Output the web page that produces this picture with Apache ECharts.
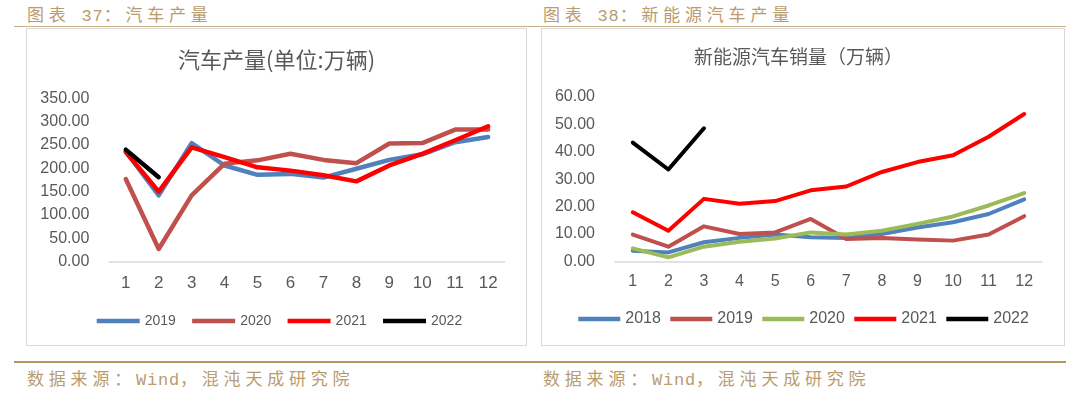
<!DOCTYPE html>
<html>
<head>
<meta charset="utf-8">
<script src="https://cdn.jsdelivr.net/npm/echarts@6/dist/echarts.min.js"></script>
<style>
  html, body { margin: 0; padding: 0; background: #ffffff; }
  #page { position: relative; width: 1080px; height: 397px; overflow: hidden; background: #fff; }
  .hdr { position: absolute; font-family: "Noto Sans CJK SC", sans-serif; font-size: 17px; line-height: 20px;
         color: #b99c6e; letter-spacing: 4.8px; white-space: nowrap; }
  .mono { font-family: "Liberation Mono", monospace; letter-spacing: 0.8px; }
  .rule { position: absolute; }
  .box { position: absolute; box-sizing: border-box; border: 1.5px solid #d9d9d9; }
  .chart { position: absolute; top: 0; width: 540px; height: 397px; }
</style>
</head>
<body>
<div id="page">
  <div class="hdr" style="left:27px; top:4px;">图表<span class="mono"> 37</span>：汽车产量</div>
  <div class="hdr" style="left:543px; top:4px;">图表<span class="mono"> 38</span>：新能源汽车产量</div>
  <div class="rule" style="left:14px; top:25.5px; width:1052px; height:1.5px; background:#c8b089;"></div>
  <div class="box" style="left:26px; top:28px; width:501px; height:318px;"></div>
  <div class="box" style="left:540.5px; top:28px; width:524px; height:318px;"></div>
  <div class="rule" style="left:14px; top:361.3px; width:1052px; height:2px; background:#b49660;"></div>
  <div class="hdr" style="left:27px; top:368px;">数据来源：<span class="mono">Wind</span>，混沌天成研究院</div>
  <div class="hdr" style="left:543px; top:368px;">数据来源：<span class="mono">Wind</span>，混沌天成研究院</div>
  <div id="c1" class="chart" style="left:0px;"></div>
  <div id="c2" class="chart" style="left:540px;"></div>
</div>
<script>
// ---- data: left chart (汽车产量, 万辆) ----
const months = ['1','2','3','4','5','6','7','8','9','10','11','12'];
const car2019 = [236, 142, 254, 206, 186, 188, 180, 199, 218, 230, 256, 267];
const car2020 = [177, 27, 142, 210, 217, 231, 218, 211, 253, 254, 283, 283];
const car2021 = [235, 150, 245, 224, 202, 195, 185, 172, 206, 231, 260, 290];
const car2022 = [240, 181];
// ---- data: right chart (新能源汽车销量, 万辆) ----
const nev2018 = [3.9, 3.3, 7.0, 8.6, 9.8, 8.8, 8.6, 10.0, 12.4, 14.3, 17.3, 22.6];
const nev2019 = [9.8, 5.4, 12.8, 10.0, 10.6, 15.5, 8.2, 8.6, 8.0, 7.6, 9.8, 16.5];
const nev2020 = [4.8, 1.5, 5.4, 7.2, 8.4, 10.6, 9.8, 11.2, 13.7, 16.4, 20.4, 24.9];
const nev2021 = [17.9, 11.2, 22.8, 21.0, 22.0, 25.9, 27.3, 32.6, 36.2, 38.7, 45.4, 53.7];
const nev2022 = [43.3, 33.5, 48.5];
const leftNames = ['2019', '2020', '2021', '2022'];
const rightNames = ['2018', '2019', '2020', '2021', '2022'];
const leftTitle = '汽车产量(单位:万辆)';
const rightTitle = '新能源汽车销量（万辆）';

const COLORS = { blue: '#4f81bd', brown: '#c0504d', green: '#9bbb59', red: '#ff0000', black: '#000000' };
const LATIN = '"Liberation Sans", Arial, sans-serif';
const CJK = '"Noto Sans CJK SC", sans-serif';
const GREY = '#595959';

function lineSeries(name, data, color, width) {
  return {
    name, type: 'line', data, symbol: 'none', showSymbol: false, smooth: false,
    itemStyle: { color },
    lineStyle: { color, width, cap: 'round', join: 'round' },
    emphasis: { disabled: true }, animation: false
  };
}

function buildOption(cfg) {
  return {
    animation: false,
    backgroundColor: 'transparent',
    graphic: [{
      type: 'text', x: cfg.titleX, y: cfg.titleY,
      style: { text: cfg.title, fill: GREY, font: cfg.titleFont, textAlign: 'center', textVerticalAlign: 'middle' }
    }],
    grid: { left: cfg.grid[0], top: cfg.grid[1], width: cfg.grid[2], height: cfg.grid[3], containLabel: false },
    legend: {
      data: cfg.names, left: cfg.legendLeft, top: cfg.legendTop, icon: 'rect', padding: 0,
      itemWidth: cfg.legendIconW, itemHeight: 4.5, itemGap: cfg.legendGap,
      textStyle: { color: GREY, fontSize: cfg.legendFont, fontFamily: LATIN },
      selectedMode: false
    },
    xAxis: {
      type: 'category', data: months, boundaryGap: true,
      axisLine: { show: true, lineStyle: { color: '#d9d9d9', width: 1.5 } },
      axisTick: { show: false },
      axisLabel: { color: GREY, fontSize: cfg.xFont, fontFamily: LATIN, margin: cfg.xMargin, interval: 0 },
      splitLine: { show: false }
    },
    yAxis: {
      type: 'value', min: 0, max: cfg.yMax, interval: cfg.yInterval,
      axisLine: { show: false }, axisTick: { show: false }, splitLine: { show: false },
      axisLabel: { color: GREY, fontSize: 16, fontFamily: LATIN, margin: 20, formatter: v => v.toFixed(2) }
    },
    series: cfg.series
  };
}

const c1 = echarts.init(document.getElementById('c1'), null, { renderer: 'canvas' });
c1.setOption(buildOption({
  title: leftTitle, titleX: 276.6, titleY: 60, titleFont: '22px ' + CJK,
  grid: [109.3, 98.3, 395.3, 163.3],
  names: leftNames, legendLeft: 96.7, legendTop: 314, legendIconW: 43, legendGap: 16.3, legendFont: 14,
  xFont: 17, xMargin: 13, yMax: 350, yInterval: 50,
  series: [
    lineSeries('2019', car2019, COLORS.blue, 4.5),
    lineSeries('2020', car2020, COLORS.brown, 4.5),
    lineSeries('2021', car2021, COLORS.red, 4.5),
    lineSeries('2022', car2022, COLORS.black, 4.5)
  ]
}));

const c2 = echarts.init(document.getElementById('c2'), null, { renderer: 'canvas' });
c2.setOption(buildOption({
  title: rightTitle, titleX: 258.5, titleY: 57, titleFont: '19px ' + CJK,
  grid: [75, 96.7, 427, 164.8],
  names: rightNames, legendLeft: 38.3, legendTop: 311, legendIconW: 42, legendGap: 9.4, legendFont: 16,
  xFont: 16, xMargin: 12, yMax: 60, yInterval: 10,
  series: [
    lineSeries('2018', nev2018, COLORS.blue, 4),
    lineSeries('2019', nev2019, COLORS.brown, 4),
    lineSeries('2020', nev2020, COLORS.green, 4),
    lineSeries('2021', nev2021, COLORS.red, 4),
    lineSeries('2022', nev2022, COLORS.black, 4)
  ]
}));
</script>
</body>
</html>
